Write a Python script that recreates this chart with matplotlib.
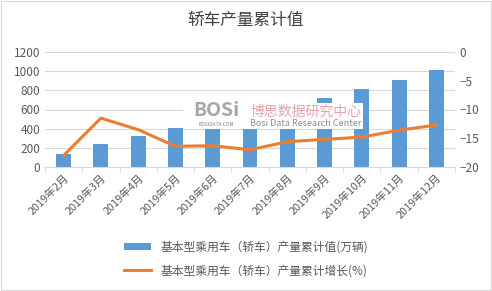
import matplotlib.pyplot as plt
import numpy as np

plt.rcParams['font.family'] = ['Noto Sans CJK SC', 'DejaVu Sans']

# data
months = ['2019年2月', '2019年3月', '2019年4月', '2019年5月', '2019年6月', '2019年7月',
          '2019年8月', '2019年9月', '2019年10月', '2019年11月', '2019年12月']
output_total = [133, 238, 322, 405, 485, 560, 640, 721, 815, 910, 1015]
growth = [-18.0, -11.5, -13.5, -16.4, -16.3, -17.0, -15.6, -15.2, -14.8, -13.6, -12.7]

bar_label = '基本型乘用车（轿车）产量累计值(万辆)'
line_label = '基本型乘用车（轿车）产量累计增长(%)'

W, H = 492, 291
fig = plt.figure(figsize=(W / 100, H / 100), dpi=100)
ax = fig.add_axes([45/W, 1 - 167/H, 410/W, 115/H])
ax2 = ax.twinx()

x = np.arange(len(months))
b = ax.bar(x, output_total, width=0.4, color='#5B9BD5', zorder=2, label=bar_label)
l, = ax2.plot(x, growth, color='#ED7D31', lw=2.2, zorder=3, label=line_label)

ax.set_ylim(0, 1200)
ax.set_yticks(range(0, 1201, 200))
ax2.set_ylim(-20, 0)
ax2.set_yticks(range(-20, 1, 5))
ax.set_xlim(-0.5, len(months) - 0.5)
ax.grid(axis='y', color='#D9D9D9', lw=0.8, zorder=0)

for a in (ax, ax2):
    for s in a.spines.values():
        s.set_visible(False)
    a.tick_params(axis='y', length=0, labelsize=8.5, colors='#595959')
ax.spines['bottom'].set_visible(True)
ax.spines['bottom'].set_color('#D9D9D9')

ax.set_xticks(x)
ax.set_xticklabels(months, rotation=45, ha='right', rotation_mode='anchor', fontsize=7.8, color='#595959')
ax.set_xticks(np.arange(-0.5, len(months), 1), minor=True)
ax.tick_params(axis='x', which='major', length=0, pad=4)
ax.tick_params(axis='x', which='minor', length=4, color='#D9D9D9')

fig.text(0.5, 1 - 20/H, '轿车产量累计值', ha='center', va='center', fontsize=12, color='#404040')

fig.legend([b, l], [bar_label, line_label], loc='center', bbox_to_anchor=(0.5, 1 - 259/H),
           ncol=1, frameon=False, fontsize=8.5, labelcolor='#595959', handlelength=2.3,
           handleheight=0.6, labelspacing=0.9)

# watermark box over the bars, under the line
wm = plt.Rectangle((183/W, 1 - 129/H), 180/W, 26/H, transform=fig.transFigure,
                   facecolor='white', edgecolor='none', zorder=2.5)
ax2.add_patch(wm)
ax2.text(216/W, 1 - 111/H, 'BOSi', transform=fig.transFigure, fontsize=14, fontweight='bold',
         color='#A6A6A6', ha='center', va='center', zorder=2.6)
ax2.text(216/W, 1 - 125/H, 'BOSIDATA.COM', transform=fig.transFigure, fontsize=3.5,
         color='#808080', ha='center', va='center', zorder=2.6)
ax2.text(306/W, 1 - 112/H, '博思数据研究中心', transform=fig.transFigure, fontsize=10,
         color='#E8A0AA', ha='center', va='center', zorder=2.6)
ax2.text(306/W, 1 - 124/H, 'Bosi Data Research Center', transform=fig.transFigure, fontsize=6.5,
         color='#8C8C8C', ha='center', va='center', zorder=2.6)

border = plt.Rectangle((0.002, 0.003), 0.995, 0.993, transform=fig.transFigure, fill=False,
                       edgecolor='#D9D9D9', lw=0.8)
fig.patches.append(border)

fig.savefig('out.png', dpi=100)
